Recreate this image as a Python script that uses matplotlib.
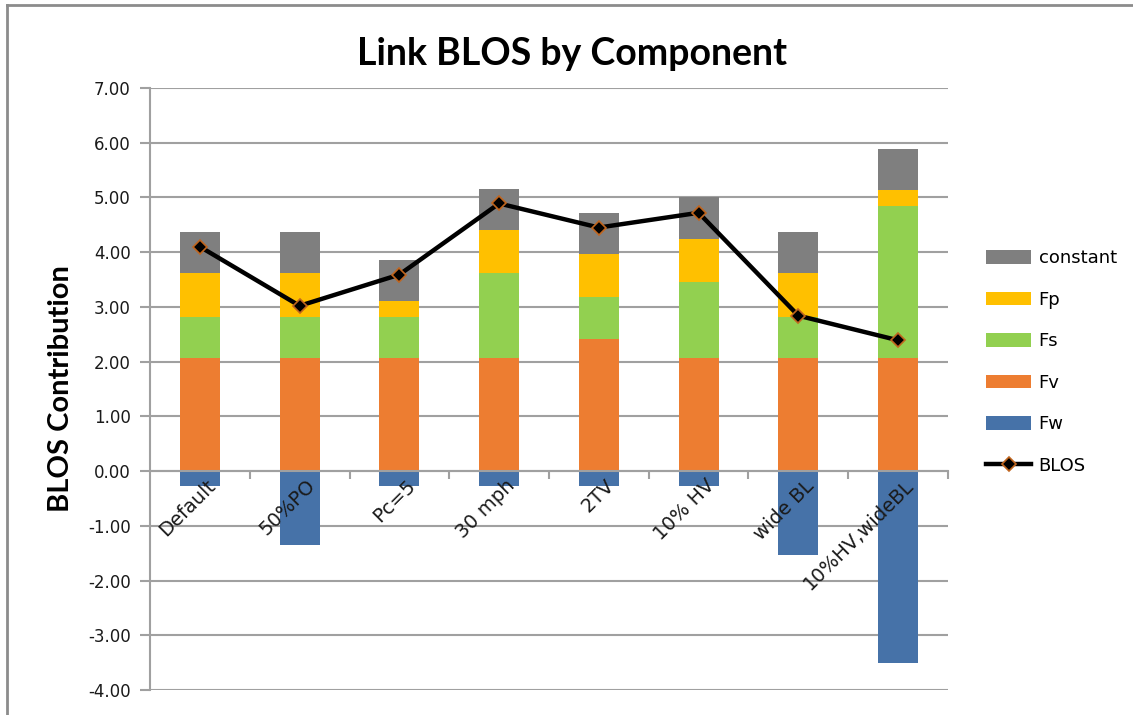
import matplotlib
matplotlib.use('Agg')
import matplotlib.pyplot as plt
import matplotlib.transforms as mtrans
from matplotlib.lines import Line2D

# data
categories = ['Default', '50%PO', 'Pc=5', '30 mph', '2TV', '10% HV', 'wide BL', '10%HV,wideBL']
fw = [-0.27, -1.35, -0.27, -0.27, -0.27, -0.27, -1.53, -3.50]
fv = [2.07, 2.07, 2.07, 2.07, 2.42, 2.07, 2.07, 2.07]
fs = [0.75, 0.75, 0.75, 1.55, 0.76, 1.39, 0.75, 2.78]
fp = [0.80, 0.80, 0.28, 0.78, 0.79, 0.79, 0.80, 0.28]
constant = [0.75, 0.75, 0.76, 0.76, 0.75, 0.75, 0.75, 0.76]
blos = [4.10, 3.02, 3.59, 4.89, 4.45, 4.72, 2.84, 2.39]

colors = {'constant': '#7F7F7F', 'Fp': '#FFC000', 'Fs': '#92D050',
          'Fv': '#ED7D31', 'Fw': '#4672A8'}
grid_col = '#A0A0A0'
text_col = '#1A1A1A'

fig = plt.figure(figsize=(11.33, 7.15), dpi=100)
ax = fig.add_axes([150/1133, 1-690/715, (948-150)/1133, (690-88)/715])

x = list(range(len(categories)))
w = 0.4

# positive stack
b1 = ax.bar(x, fv, w, color=colors['Fv'], label='Fv', zorder=2)
bot = fv[:]
b2 = ax.bar(x, fs, w, bottom=bot, color=colors['Fs'], label='Fs', zorder=2)
bot = [a + b for a, b in zip(bot, fs)]
b3 = ax.bar(x, fp, w, bottom=bot, color=colors['Fp'], label='Fp', zorder=2)
bot = [a + b for a, b in zip(bot, fp)]
b4 = ax.bar(x, constant, w, bottom=bot, color=colors['constant'], label='constant', zorder=2)
# negative part
b0 = ax.bar(x, fw, w, color=colors['Fw'], label='Fw', zorder=2)

ln, = ax.plot(x, blos, color='black', lw=3.2, marker='D', markersize=7,
              markerfacecolor='black', markeredgecolor='#C0651E', markeredgewidth=1.2,
              label='BLOS', zorder=3)

ax.set_xlim(-0.5, 7.5)
ax.set_ylim(-4, 7)
ax.set_yticks(range(-4, 8))
ax.set_yticklabels([f'{v:.2f}' for v in range(-4, 8)], fontsize=12, color=text_col)
ax.yaxis.grid(True, color=grid_col, lw=1.5, zorder=0)
ax.set_axisbelow(True)
ax.tick_params(axis='y', length=7, width=1.5, color=grid_col, pad=7)

for s in ['top', 'right']:
    ax.spines[s].set_visible(False)
ax.spines['left'].set_color(grid_col)
ax.spines['left'].set_linewidth(1.5)
ax.spines['bottom'].set_position(('data', 0))
ax.spines['bottom'].set_color(grid_col)
ax.spines['bottom'].set_linewidth(1.5)

# category labels drawn on top of the bars
ax.set_xticks(x)
ax.set_xticklabels([])
ax.set_xticks([i + 0.5 for i in x], minor=True)
ax.tick_params(axis='x', which='major', length=0)
ax.tick_params(axis='x', which='minor', length=6, width=1.5, color=grid_col)
offset = mtrans.ScaledTranslation(6/100, -5/100, fig.dpi_scale_trans)
for i, cat in enumerate(categories):
    ax.text(i, 0, cat, rotation=45, ha='right', va='top', rotation_mode='anchor',
            fontsize=14, color=text_col, transform=ax.transData + offset, zorder=5)

ax.set_ylabel('BLOS Contribution', fontsize=21, fontweight='bold', family='Lato', labelpad=10)
fig.suptitle('Link BLOS by Component', x=0.505, y=0.948, fontsize=27, fontweight='bold', family='Lato')

fig.legend([b4, b3, b2, b1, b0, ln], ['constant', 'Fp', 'Fs', 'Fv', 'Fw', 'BLOS'],
           loc='center left', bbox_to_anchor=(970/1133, 1-362/715), frameon=False,
           fontsize=13, labelspacing=1.3, handlelength=2.5, handleheight=0.8,
           handletextpad=0.4)

# chart border (only top and left edges fall inside the picture)
fig.add_artist(Line2D([7/1133, 1], [1-5/715, 1-5/715], transform=fig.transFigure,
                      color='#8C8C8C', lw=2))
fig.add_artist(Line2D([7/1133, 7/1133], [0, 1-5/715], transform=fig.transFigure,
                      color='#8C8C8C', lw=2))

fig.savefig('out.png', dpi=100)
